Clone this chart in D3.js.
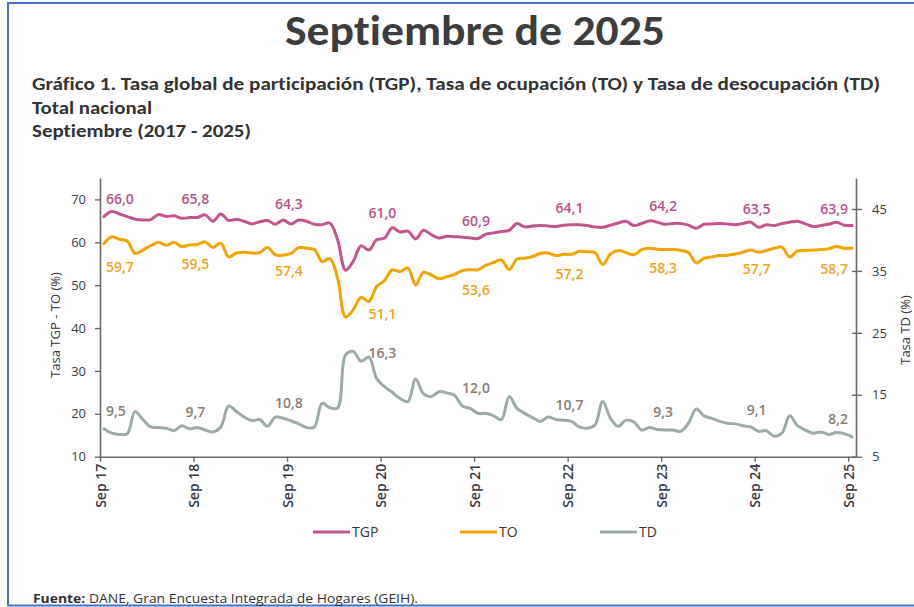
<!DOCTYPE html>
<html>
<head>
<meta charset="utf-8">
<script src="https://cdn.jsdelivr.net/npm/d3@7"></script>
<style>
  html, body { margin: 0; padding: 0; background: #ffffff; }
  svg { display: block; }
  text { font-variant-ligatures: none; font-feature-settings: "liga" 0, "clig" 0; }
</style>
</head>
<body>
<svg id="chart" width="914" height="607"></svg>
<script>
// ---------------- DATA ----------------
const tickLabels = ["Sep 17", "Sep 18", "Sep 19", "Sep 20", "Sep 21", "Sep 22", "Sep 23", "Sep 24", "Sep 25"];
const seriesNames = ["TGP", "TO", "TD"];

// Monthly values, Sep 2017 ... Sep 2025 (97 months)
const tgp = [
  66.0, 67.2, 66.6, 66.0, 65.4, 65.2, 65.3, 66.5, 66.0, 66.2, 65.6, 65.8,
  65.8, 66.4, 64.9, 66.6, 65.1, 65.4, 64.9, 64.3, 64.8, 65.1, 64.2, 65.2,
  64.3, 65.2, 64.9, 64.2, 64.1, 64.5, 60.5, 53.5, 55.6, 59.2, 58.2, 60.6,
  61.0, 63.4, 62.4, 62.6, 60.8, 62.8, 61.8, 61.0, 61.4, 61.3, 61.2, 61.0,
  60.9, 61.9, 62.2, 62.5, 62.8, 64.4, 63.6, 63.8, 63.9, 63.8, 63.7, 64.0,
  64.1, 64.1, 63.9, 63.6, 63.5, 64.0, 64.5, 64.9, 63.9, 64.4, 65.0, 64.7,
  64.2, 64.4, 64.4, 64.0, 63.3, 64.2, 64.3, 64.4, 64.3, 64.1, 64.4, 64.7,
  63.5, 64.1, 63.9, 64.4, 64.7, 64.9, 64.3, 63.7, 63.9, 64.2, 64.7, 64.0,
  63.9
];
const to = [
  59.7, 61.3, 60.7, 60.3, 57.4, 58.2, 59.2, 60.0, 59.3, 60.0, 59.0, 59.4,
  59.5, 60.1, 58.8, 59.8, 56.6, 57.5, 57.7, 57.5, 57.6, 58.8, 57.1, 57.0,
  57.4, 58.8, 58.6, 58.3, 55.5, 56.2, 51.5, 42.6, 44.3, 47.2, 46.2, 49.7,
  51.1, 53.6, 53.2, 54.0, 50.1, 53.0, 52.4, 51.5, 52.0, 52.5, 53.4, 53.6,
  53.6, 54.6, 55.3, 55.9, 53.6, 56.1, 56.3, 56.7, 57.4, 57.5, 56.9, 57.2,
  57.2, 57.9, 57.8, 57.6, 54.8, 57.3, 58.1, 57.6, 57.1, 58.3, 58.6, 58.4,
  58.3, 58.3, 58.1, 57.6, 55.2, 56.3, 56.6, 56.9, 57.0, 57.3, 57.7, 58.2,
  57.7, 58.1, 58.6, 58.9, 56.6, 58.0, 58.1, 58.2, 58.3, 58.5, 59.0, 58.6,
  58.7
];
const td = [
  9.5, 8.8, 8.6, 8.7, 12.3, 11.0, 9.8, 9.7, 9.6, 9.2, 10.0, 9.5,
  9.7, 9.3, 9.0, 9.8, 13.2, 12.3, 11.4, 10.8, 11.0, 9.9, 11.4, 11.2,
  10.8, 10.3, 9.7, 9.8, 13.6, 12.9, 12.9, 21.4, 22.0, 20.4, 21.1, 17.6,
  16.3, 15.4, 14.4, 13.9, 17.5, 15.2, 14.7, 15.5, 15.3, 14.9, 13.2, 12.8,
  12.0, 12.0, 11.6, 11.0, 14.7, 12.8, 12.0, 11.3, 10.7, 11.4, 11.0, 10.9,
  10.7, 9.8, 9.6, 10.1, 13.9, 11.2, 9.9, 10.9, 10.6, 9.3, 9.7, 9.4,
  9.3, 9.3, 9.1, 10.4, 12.7, 11.6, 11.2, 10.7, 10.4, 10.3, 10.0, 9.8,
  9.1, 9.2, 8.3, 8.8, 11.6, 10.0, 9.3, 8.8, 9.0, 8.6, 8.9, 8.7,
  8.2
];

// Labelled September values
const tgpLabels = [66.0, 65.8, 64.3, 61.0, 60.9, 64.1, 64.2, 63.5, 63.9];
const toLabels  = [59.7, 59.5, 57.4, 51.1, 53.6, 57.2, 58.3, 57.7, 58.7];
const tdLabels  = [9.5, 9.7, 10.8, 16.3, 12.0, 10.7, 9.3, 9.1, 8.2];

const leftTicks  = [10, 20, 30, 40, 50, 60, 70];
const rightTicks = [5, 15, 25, 35, 45];

// ---------------- LAYOUT / STYLE ----------------
const colors = { TGP: "#C4548D", TO: "#F4A300", TD: "#9BACA7" };
const labelColors = { TGP: "#B9508A", TO: "#F2A21B", TD: "#8A7D72" };
const FONT = "'Open Sans', 'Noto Sans', sans-serif";
const TFONT = "Carlito, 'Liberation Sans Narrow', 'Open Sans', sans-serif";

const svg = d3.select("#chart");

// frame
svg.append("line").attr("x1", 8).attr("x2", 914).attr("y1", 3).attr("y2", 3)
  .attr("stroke", "#4472C4").attr("stroke-width", 2);
svg.append("line").attr("x1", 8).attr("x2", 8).attr("y1", 2).attr("y2", 606)
  .attr("stroke", "#4472C4").attr("stroke-width", 2);
svg.append("line").attr("x1", 8).attr("x2", 914).attr("y1", 605.5).attr("y2", 605.5)
  .attr("stroke", "#4472C4").attr("stroke-width", 2);

// titles
svg.append("text").attr("x", 475).attr("y", 45).attr("text-anchor", "middle")
  .attr("font-family", TFONT).attr("font-weight", 700).attr("font-size", 42)
  .attr("fill", "#3d3d3d").attr("textLength", 380).attr("lengthAdjust", "spacingAndGlyphs")
  .text("Septiembre de 2025");

const subs = [
  { t: "Gráfico 1. Tasa global de participación (TGP), Tasa de ocupación (TO) y Tasa de desocupación (TD)", y: 90, w: 848 },
  { t: "Total nacional", y: 113.5, w: 120 },
  { t: "Septiembre (2017 - 2025)", y: 137, w: 219 }
];
subs.forEach(s => {
  svg.append("text").attr("x", 32).attr("y", s.y)
    .attr("font-family", TFONT).attr("font-weight", 700).attr("font-size", 17)
    .attr("fill", "#333333").attr("textLength", s.w).attr("lengthAdjust", "spacingAndGlyphs")
    .text(s.t);
});

// scales
const n = tgp.length;
const x = d3.scaleLinear().domain([0, n]).range([100, 856]);
const yL = d3.scaleLinear().domain([10, 75]).range([456.7, 178]);
const yR = d3.scaleLinear().domain([5, 50]).range([456.7, 178]);

const axisColor = "#6a6a6a";
const tickTextColor = "#3a3a45";

// left axis
const gL = svg.append("g").attr("transform", "translate(100,0)")
  .call(d3.axisLeft(yL).tickValues(leftTicks).tickSize(5).tickSizeOuter(0).tickPadding(9));
// right axis
const gR = svg.append("g").attr("transform", "translate(856,0)")
  .call(d3.axisRight(yR).tickValues(rightTicks).tickSize(6).tickSizeOuter(0).tickPadding(10));
gR.selectAll(".tick line").attr("x1", -4);
// bottom axis
const xTickVals = tickLabels.map((d, i) => i * 12);
const gB = svg.append("g").attr("transform", "translate(0,456.7)")
  .call(d3.axisBottom(x).tickValues(xTickVals).tickFormat(v => tickLabels[v / 12]).tickSize(5).tickSizeOuter(0));
gB.selectAll(".tick text")
  .attr("transform", "rotate(-90)").attr("text-anchor", "end")
  .attr("x", -7).attr("y", 0).attr("dy", "0.36em")
  .attr("font-weight", 600).attr("font-size", 14);

[gL, gR, gB].forEach(g => {
  g.select(".domain").attr("stroke", axisColor).attr("stroke-width", 1.6);
  g.selectAll(".tick line").attr("stroke", axisColor).attr("stroke-width", 1.4);
  g.selectAll(".tick text").attr("fill", tickTextColor).attr("font-family", FONT);
});
gL.selectAll(".tick text").attr("font-size", 13);
gR.selectAll(".tick text").attr("font-size", 13);

// axis titles
svg.append("text").attr("transform", "translate(60,325) rotate(-90)")
  .attr("text-anchor", "middle").attr("font-family", FONT).attr("font-size", 13)
  .attr("fill", "#333").text("Tasa TGP - TO (%)");
svg.append("text").attr("transform", "translate(910,330) rotate(-90)")
  .attr("text-anchor", "middle").attr("font-family", FONT).attr("font-size", 13)
  .attr("fill", "#333").text("Tasa TD (%)");

// lines
const mkLine = yS => d3.line()
  .x((d, i) => x(i + 0.5)).y(d => yS(d))
  .curve(d3.curveCatmullRom.alpha(0.5));

const series = [
  { name: "TGP", data: tgp, y: yL, labels: tgpLabels },
  { name: "TO",  data: to,  y: yL, labels: toLabels },
  { name: "TD",  data: td,  y: yR, labels: tdLabels }
];

series.forEach(s => {
  svg.append("path").datum(s.data)
    .attr("fill", "none").attr("stroke", colors[s.name])
    .attr("stroke-width", 3).attr("stroke-linejoin", "round").attr("stroke-linecap", "round")
    .attr("d", mkLine(s.y));
});

// data labels (vertical offsets of label centre from the value, in px)
const labelDy = {
  TGP: [-18, -18, -20, -25, -17, -17, -18, -18, -17],
  TO:  [ 23,  20,  17,  33,  20,  20,  18,  17,  21],
  TD:  [-18, -16, -18, -34, -25, -16, -18, -21, -18]
};
const fmt = v => d3.format(".1f")(v).replace(".", ",");

series.forEach(s => {
  s.labels.forEach((v, k) => {
    const idx = k * 12;
    const px = x(idx + 0.5);
    let anchor = "middle", lx = px - 2;
    if (k === 0) { anchor = "start"; lx = 106; }
    if (k === s.labels.length - 1) { anchor = "end"; lx = 848; }
    svg.append("text")
      .attr("x", lx).attr("y", s.y(v) + labelDy[s.name][k]).attr("dy", "0.36em")
      .attr("text-anchor", anchor)
      .attr("font-family", FONT).attr("font-weight", 600).attr("font-size", 14)
      .attr("fill", labelColors[s.name])
      .text(fmt(v));
  });
});

// legend
const legendX = [313, 460, 600];
seriesNames.forEach((name, k) => {
  const lg = svg.append("g").attr("transform", `translate(${legendX[k]},532)`);
  lg.append("line").attr("x1", 0).attr("x2", 37).attr("y1", 0).attr("y2", 0)
    .attr("stroke", colors[name]).attr("stroke-width", 3);
  lg.append("text").attr("x", 39).attr("y", 0).attr("dy", "0.36em")
    .attr("font-family", FONT).attr("font-size", 14).attr("fill", "#333").text(name);
});

// source
const src = svg.append("text").attr("x", 33).attr("y", 603)
  .attr("font-family", FONT).attr("font-size", 12.5).attr("fill", "#333")
  .attr("textLength", 385).attr("lengthAdjust", "spacingAndGlyphs");
src.append("tspan").attr("font-weight", 700).text("Fuente:");
src.append("tspan").text(" DANE, Gran Encuesta Integrada de Hogares (GEIH).");
</script>
</body>
</html>
